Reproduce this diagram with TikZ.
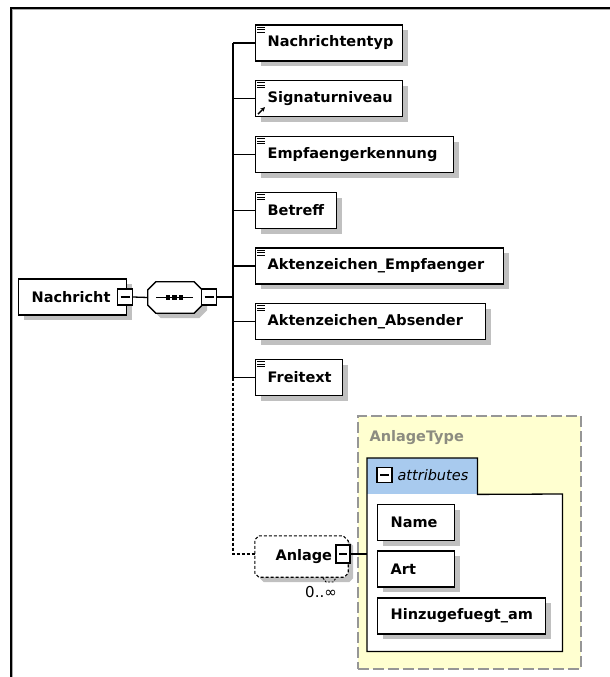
\documentclass[tikz,border=0pt]{standalone}
\usepackage{fontspec}
\setmainfont{DejaVu Sans}
\usetikzlibrary{shadows,arrows.meta}
\definecolor{shadowgray}{RGB}{192,192,192}
\definecolor{typeyellow}{RGB}{255,255,208}
\definecolor{typeborder}{RGB}{150,150,150}
\definecolor{attrblue}{RGB}{168,202,238}
\definecolor{typetext}{RGB}{140,140,128}
\definecolor{framegray}{RGB}{170,170,170}
\begin{document}
\begin{tikzpicture}[x=1pt,y=-1pt,
  font=\fontsize{14.5}{16}\selectfont\bfseries,
  shadowed/.style={drop shadow={shadow xshift=5pt,shadow yshift=-5pt,fill=shadowgray,opacity=1}},
  elembox/.style={draw=black, line width=1.3pt, fill=white, rectangle, minimum height=36pt,
    inner xsep=12pt, inner ysep=0pt, anchor=west, align=left, shadowed},
  attrbox/.style={draw=black, line width=1.3pt, fill=white, rectangle, minimum height=36pt,
    inner xsep=13pt, inner ysep=0pt, anchor=west, align=left, shadowed},
  minusbox/.style={draw=black, line width=1.1pt, fill=white, rectangle, minimum width=15pt,
    minimum height=16pt, inner sep=0pt,
    path picture={\draw[line width=1.1pt] ([xshift=3pt]path picture bounding box.west) -- ([xshift=-3pt]path picture bounding box.east);}},
  slot/.style={rectangle, inner sep=0pt},
  octline/.style={draw=black, line width=1.3pt, fill=white, shadowed},
  anlline/.style={draw=black, line width=1.1pt, dash pattern=on 3pt off 2pt, fill=white, shadowed},
  conn/.style={draw=black, line width=1.3pt},
  dconn/.style={draw=black, line width=1.1pt, dash pattern=on 3pt off 2pt},
  icon/.style={draw=black, line width=0.6pt},
]
\useasboundingbox (0,0) rectangle (610,677);
% frame
\draw[framegray, line width=1pt] (12.5,677) -- (12.5,9.5) -- (610,9.5);
\draw[black, line width=1.6pt] (11,677) -- (11,8) -- (610,8);

% root
\node[elembox, inner xsep=13pt, text width=82pt] (root) at (18,297) {\mbox{Nachricht}};
\node[minusbox] (rootminus) at (125,297) {};
\node[slot, minimum width=54pt, minimum height=31pt] (seq) at (175,297.5) {};
\path[octline] ([shift={(8,0)}]seq.north west) -- ([shift={(-8,0)}]seq.north east)
  -- ([shift={(0,8)}]seq.north east) -- ([shift={(0,-8)}]seq.south east)
  -- ([shift={(-8,0)}]seq.south east) -- ([shift={(8,0)}]seq.south west)
  -- ([shift={(0,-8)}]seq.south west) -- ([shift={(0,8)}]seq.north west) -- cycle;
\draw[line width=1.2pt] ([xshift=-19pt]seq.center) -- ([xshift=18pt]seq.center);
\foreach \dx in {-7,-0.5,6}
  \fill ([xshift=\dx pt]seq.center) ++(-2.2,-2.2) rectangle ++(4.4,4.4);
\node[minusbox] (seqminus) at (209,297) {};
\draw[conn] (rootminus.east) -- (seq.west);

% trunk
\coordinate (trunk) at (233,297);

% children
\node[elembox, text width=123pt] (c1) at (255,43) {\mbox{Nachrichtentyp}};
\node[elembox, text width=123pt] (c2) at (255,98.5) {\mbox{Signaturniveau}};
\node[elembox, text width=174pt] (c3) at (255,154.5) {\mbox{Empfaengerkennung}};
\node[elembox, text width=57pt] (c4) at (255,210.5) {\mbox{Betreff}};
\node[elembox, text width=224pt] (c5) at (255,266) {\mbox{Aktenzeichen\_Empfaenger}};
\node[elembox, text width=206pt] (c6) at (255,321.5) {\mbox{Aktenzeichen\_Absender}};
\node[elembox, text width=63pt] (c7) at (255,377.5) {\mbox{Freitext}};

\foreach \n in {c1,c2,c3,c4,c5,c6,c7} {
  \foreach \dy in {2.5,5,7.5}
    \draw[icon] ([shift={(2,\dy)}]\n.north west) -- ++(7.5,0);
  \draw[conn] (\n.west -| trunk) -- (\n.west);
}
\draw[-{Stealth[length=4.5pt,width=4.5pt]}, line width=1.5pt] ([shift={(3,-3)}]c2.south west) -- ++(7,-7);

\draw[conn] (seqminus.east) -- (seqminus.east -| trunk);
\draw[conn] (c1.west -| trunk) -- (c7.west -| trunk);

% Anlage
\node[slot, minimum width=93pt, minimum height=41pt] (anl) at (301.5,556.5) {};
\path[anlline] ([shift={(4,0)}]anl.north west) -- ([shift={(-5,0)}]anl.north east)
  -- ([shift={(0,5)}]anl.north east) -- ([shift={(0,-4)}]anl.south east)
  -- ([shift={(-4,0)}]anl.south east) -- ([shift={(4,0)}]anl.south west)
  -- ([shift={(0,-4)}]anl.south west) -- ([shift={(0,4)}]anl.north west) -- cycle;
\node[anchor=base west] (anltext) at (272,560) {Anlage};
\node[minusbox, minimum width=14pt, minimum height=18pt] (anlminus) at (343,554) {};
\draw[dconn] (c7.west -| trunk) |- (anl.west |- anlminus.center);
\draw[black, line width=0.9pt, dash pattern=on 2pt off 1.5pt] (323,578) -- (326,582) -- (333,582) -- (336,578);
\node[font=\fontsize{15}{16}\selectfont\mdseries, anchor=base] (card) at (321,597) {0..∞};

% AnlageType
\node[draw=typeborder, line width=1.6pt, dash pattern=on 11pt off 4pt, fill=typeyellow,
  rectangle, minimum width=223pt, minimum height=253pt, inner sep=0pt, anchor=north west] (atype) at (357,415) {};
\node[anchor=base west, text=typetext] (atypelabel) at (366,441) {AnlageType};

\node[fill=white, rectangle, minimum width=195pt, minimum height=157pt, inner sep=0pt, anchor=north west] (panel) at (367,494) {};
\node[fill=attrblue, rectangle, minimum width=110pt, minimum height=36pt, inner sep=0pt, anchor=north west] (tab) at (367,458) {};
\draw[line width=1.3pt] (panel.south west) -- (tab.north west) -- (tab.north east) -- (tab.south east)
  -- (panel.north east) -- (panel.south east) -- cycle;
\node[minusbox, minimum width=15pt, minimum height=15pt] (attrminus) at (384.5,475) {};
\node[anchor=base west, font=\fontsize{14.5}{16}\selectfont\mdseries\itshape] (attrlabel) at (394,480) {attributes};

\node[attrbox, text width=51pt] (a1) at (377,522.5) {\mbox{Name}};
\node[attrbox, text width=51pt] (a2) at (377,569) {\mbox{Art}};
\node[attrbox, text width=142pt] (a3) at (377,616) {\mbox{Hinzugefuegt\_am}};

\draw[conn] (anlminus.east) -- (anlminus.east -| panel.west);
\end{tikzpicture}
\end{document}
